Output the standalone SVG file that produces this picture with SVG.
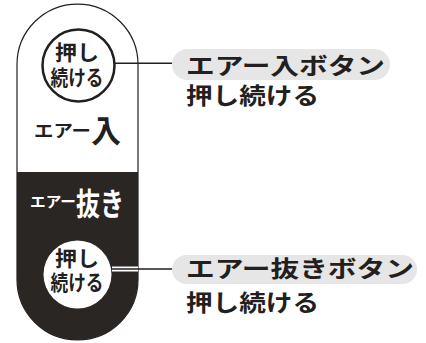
<svg xmlns="http://www.w3.org/2000/svg" width="426" height="343" viewBox="0 0 426 343">
<style>
.t{font-family:"Noto Sans CJK JP","Noto Sans",sans-serif;font-weight:bold;fill:#231f20}
.w{fill:#ffffff}
.pill{fill:#e6e6e6}
.ln{stroke:#231f20;stroke-width:1.5;fill:none}
</style>
<rect width="426" height="343" fill="#ffffff"/>
<g id="remote">
<path d="M17,64.5 A60.5,60.5 0 0 1 138,64.5 L138,279.5 A60.5,60.5 0 0 1 17,279.5 Z" fill="#ffffff" stroke="#231f20" stroke-width="1.2"/>
<path d="M17,172 H138 V279.5 A60.5,60.5 0 0 1 17,279.5 Z" fill="#2a2624"/>
<text class="t" x="34" y="137" font-size="17" textLength="57" lengthAdjust="spacingAndGlyphs">エアー</text>
<text class="t" x="91" y="142" font-size="31" textLength="30" lengthAdjust="spacingAndGlyphs">入</text>
<text class="t w" x="30" y="207" font-size="15" textLength="46" lengthAdjust="spacingAndGlyphs">エアー</text>
<text class="t w" x="76" y="215" font-size="31" textLength="48" lengthAdjust="spacingAndGlyphs">抜き</text>
</g>
<g id="connectors">
<line class="ln" x1="113" y1="63.3" x2="172" y2="63.3"/>
<line x1="112" y1="269" x2="138" y2="269" stroke="#ffffff" stroke-width="5"/>
<line class="ln" x1="112" y1="269" x2="172" y2="269"/>
</g>
<g id="btn-in">
<circle cx="78.5" cy="65.5" r="36" fill="#ffffff" stroke="#231f20" stroke-width="2.5"/>
<text class="t" x="77" y="60" font-size="21" text-anchor="middle" textLength="44" lengthAdjust="spacingAndGlyphs">押し</text>
<text class="t" x="77" y="85" font-size="21" text-anchor="middle" textLength="53" lengthAdjust="spacingAndGlyphs">続ける</text>
</g>
<g id="btn-out">
<circle cx="77.5" cy="274.5" r="34" fill="#ffffff"/>
<text class="t" x="77" y="266" font-size="21" text-anchor="middle" textLength="44" lengthAdjust="spacingAndGlyphs">押し</text>
<text class="t" x="77" y="290" font-size="21" text-anchor="middle" textLength="53" lengthAdjust="spacingAndGlyphs">続ける</text>
</g>
<g id="label-in">
<rect class="pill" x="172" y="49" width="218" height="31" rx="15.5"/>
<text class="t" x="186" y="74" font-size="23" textLength="199" lengthAdjust="spacingAndGlyphs">エアー入ボタン</text>
<text class="t" x="186" y="104" font-size="23" textLength="133" lengthAdjust="spacingAndGlyphs">押し続ける</text>
</g>
<g id="label-out">
<rect class="pill" x="172" y="255" width="245" height="29" rx="14.5"/>
<text class="t" x="186" y="277" font-size="23" textLength="228" lengthAdjust="spacingAndGlyphs">エアー抜きボタン</text>
<text class="t" x="186" y="311" font-size="23" textLength="133" lengthAdjust="spacingAndGlyphs">押し続ける</text>
</g>
</svg>
